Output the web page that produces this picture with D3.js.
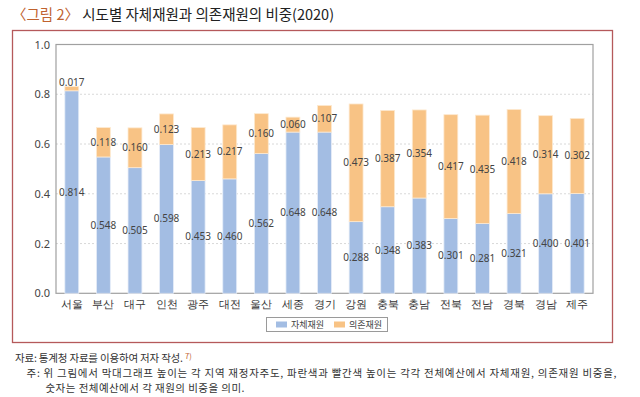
<!DOCTYPE html>
<html><head><meta charset="utf-8">
<script src="https://cdn.jsdelivr.net/npm/d3@7"></script>
<style>
html,body{margin:0;padding:0;background:#fff;}
svg{display:block;font-family:"Noto Sans CJK KR","Noto Sans",sans-serif;}
</style></head>
<body><svg id="c" width="640" height="397"></svg>
<script>
const categories = ["서울","부산","대구","인천","광주","대전","울산","세종","경기","강원","충북","충남","전북","전남","경북","경남","제주"];
const selfFund = [0.814,0.548,0.505,0.598,0.453,0.460,0.562,0.648,0.648,0.288,0.348,0.383,0.301,0.281,0.321,0.400,0.401];
const depFund  = [0.017,0.118,0.160,0.123,0.213,0.217,0.160,0.060,0.107,0.473,0.387,0.354,0.417,0.435,0.418,0.314,0.302];
const seriesNames = ["자체재원","의존재원"];
const yTicks = [0,0.2,0.4,0.6,0.8,1.0];

const svg = d3.select("#c");
const colors = ["#a3bde3","#f8c385"];
const L=56, R=593, T=44.5, B=293.3;

// title
const title = svg.append("text").attr("x",12).attr("y",20).attr("font-size",14.5);
title.append("tspan").attr("fill","#c0622e").text("〈그림 2〉");
title.append("tspan").attr("fill","#222").text(" 시도별 자체재원과 의존재원의 비중(2020)");

// outer border
svg.append("rect").attr("x",12.5).attr("y",30.5).attr("width",600).attr("height",312)
  .attr("fill","none").attr("stroke","#b5595b").attr("stroke-width",1.3);

const x = d3.scaleBand().domain(categories).range([L,R]).paddingInner(0.56).paddingOuter(0.28);
const y = d3.scaleLinear().domain([0,1]).range([B,T]);

// gridlines
svg.append("g").selectAll("line").data(yTicks.filter(t=>t>0&&t<1)).join("line")
  .attr("x1",L).attr("x2",R).attr("y1",d=>y(d)).attr("y2",d=>y(d))
  .attr("stroke","#cfcfcf").attr("stroke-dasharray","2,2").attr("stroke-width",0.8);

// frame
svg.append("rect").attr("x",L).attr("y",T).attr("width",R-L).attr("height",B-T)
  .attr("fill","none").attr("stroke","#a0a0a0").attr("stroke-width",1.2);

// y axis
const ya = svg.append("g").attr("transform",`translate(${L},0)`)
  .call(d3.axisLeft(y).tickValues(yTicks).tickFormat(d3.format(".1f")).tickSize(0).tickPadding(6));
ya.select(".domain").remove();
ya.selectAll("text").attr("font-size",11).attr("fill","#444").attr("font-family","'Noto Sans','Noto Sans CJK KR',sans-serif");

// x axis
const xa = svg.append("g").attr("transform",`translate(0,${B})`)
  .call(d3.axisBottom(x).tickSize(0).tickPadding(7));
xa.select(".domain").remove();
xa.selectAll("text").attr("font-size",11).attr("fill","#333");

// bars
const rows = categories.map((c,i)=>({c, s:selfFund[i], d:depFund[i]}));
const g = svg.append("g");
g.selectAll("rect.s").data(rows).join("rect").attr("class","s")
  .attr("x",d=>x(d.c)).attr("width",x.bandwidth())
  .attr("y",d=>y(d.s)).attr("height",d=>y(0)-y(d.s))
  .attr("fill",colors[0]).attr("stroke","#e6edf8").attr("stroke-width",0.8);
g.selectAll("rect.d").data(rows).join("rect").attr("class","d")
  .attr("x",d=>x(d.c)).attr("width",x.bandwidth())
  .attr("y",d=>y(d.s+d.d)).attr("height",d=>y(d.s)-y(d.s+d.d))
  .attr("fill",colors[1]).attr("stroke","#fde9d0").attr("stroke-width",0.8);

// labels
const lab = svg.append("g").attr("font-size",10).attr("fill","#444").attr("text-anchor","middle")
  .attr("font-family","'Noto Sans','Noto Sans CJK KR',sans-serif");
lab.selectAll("text.s").data(rows).join("text")
  .attr("x",d=>x(d.c)+x.bandwidth()/2).attr("y",d=>y(d.s/2)).attr("dy","0.35em")
  .text(d=>d3.format(".3f")(d.s));
lab.selectAll("text.d").data(rows).join("text")
  .attr("x",d=>x(d.c)+x.bandwidth()/2)
  .attr("y",d=>{const h=y(d.s)-y(d.s+d.d); return h<12? y(d.s+d.d)-4 : y(d.s+d.d/2);})
  .attr("dy","0.35em")
  .text(d=>d3.format(".3f")(d.d));

// legend
const lg = svg.append("g");
lg.append("rect").attr("x",266.5).attr("y",317.5).attr("width",121).attr("height",14)
  .attr("fill","#fff").attr("stroke","#9a9a9a").attr("stroke-width",1);
const lx=[276,334];
seriesNames.forEach((n,i)=>{
  lg.append("rect").attr("x",lx[i]).attr("y",321.5).attr("width",11).attr("height",6).attr("fill",colors[i]);
  lg.append("text").attr("x",lx[i]+15).attr("y",324.8).attr("dy","0.35em").attr("font-size",9).attr("fill","#444").text(n);
});

// footer
const fs = 10.5;
const f1 = svg.append("text").attr("x",15).attr("y",362).attr("font-size",fs).attr("fill","#333")
  .attr("textLength",168).attr("lengthAdjust","spacing");
f1.append("tspan").text("자료: 통계청 자료를 이용하여 저자 작성.");
svg.append("text").attr("x",185).attr("y",359).attr("font-size",7.5).attr("fill","#c0622e").text("7)");
svg.append("text").attr("x",26.5).attr("y",377).attr("font-size",fs).attr("fill","#333")
  .attr("textLength",590).attr("lengthAdjust","spacing")
  .text("주: 위 그림에서 막대그래프 높이는 각 지역 재정자주도, 파란색과 빨간색 높이는 각각 전체예산에서 자체재원, 의존재원 비중을,");
svg.append("text").attr("x",45.5).attr("y",392).attr("font-size",fs).attr("fill","#333")
  .attr("textLength",199).attr("lengthAdjust","spacing")
  .text("숫자는 전체예산에서 각 재원의 비중을 의미.");
</script></body></html>
